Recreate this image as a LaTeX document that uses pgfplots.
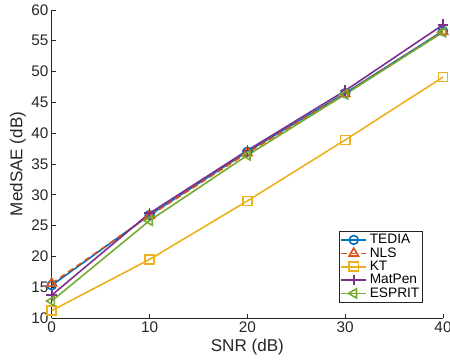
\documentclass[border=0pt]{standalone}
\usepackage{fontspec}
\setmainfont{Liberation Sans}
\usepackage{pgfplots}
\pgfplotsset{compat=1.18}
\definecolor{mblue}{rgb}{0,0.447,0.741}
\definecolor{morange}{rgb}{0.85,0.325,0.098}
\definecolor{myellow}{rgb}{0.929,0.694,0.125}
\definecolor{mpurple}{rgb}{0.494,0.184,0.556}
\definecolor{mgreen}{rgb}{0.466,0.674,0.188}
\definecolor{axgray}{rgb}{0.15,0.15,0.15}
\begin{document}
\begin{tikzpicture}
\begin{axis}[
  name=ax,
  scale only axis,
  width=293.5pt, height=231pt,
  xmin=0, xmax=40, ymin=10, ymax=60,
  xtick={0,10,20,30,40},
  ytick={10,15,20,25,30,35,40,45,50,55,60},
  axis lines=left,
  axis line style={-, axgray, line width=0.5pt},
  tick align=inside,
  major tick length=3pt,
  tick style={axgray, line width=0.5pt},
  /pgf/number format/assume math mode=true,
  ticklabel style={font=\fontsize{11.5}{13}\selectfont, text=axgray},
  yticklabel style={xshift=1pt},
  xticklabel style={yshift=1pt},
  xlabel={SNR (dB)},
  ylabel={MedSAE (dB)},
  label style={font=\fontsize{12.8}{14}\selectfont, text=axgray},
  xlabel style={at={([yshift=-22pt]axis description cs:0.5,0)}, anchor=center},
  ylabel style={at={([xshift=-25.3pt]axis description cs:0,0.5)}, anchor=center},
  legend cell align=left,
  legend style={at={(0.949,0.049)}, anchor=south east,
    font=\fontsize{10.3}{11}\selectfont, draw=axgray, line width=0.5pt,
    inner sep=0.5pt, row sep=-2.6pt},
  legend image code/.code={
    \draw[mark repeat=2,mark phase=2] plot coordinates {(0cm,0cm) (0.33cm,0cm) (0.66cm,0cm)};
  },
  every axis plot/.append style={line width=1.2pt, mark size=3.3pt, mark options={solid, fill=none}},
]
\addplot[color=mblue, mark=o] coordinates {(0,15.3) (10,26.7) (20,37.0) (30,46.5) (40,56.6)};
\addlegendentry{TEDIA}
\addplot[color=morange, dash pattern=on 4.5pt off 3pt, mark=triangle, mark size=4pt] coordinates {(0,15.6) (10,26.6) (20,36.8) (30,46.4) (40,56.5)};
\addlegendentry{NLS}
\addplot[color=myellow, mark=square, mark size=3.4pt] coordinates {(0,11.2) (10,19.5) (20,29.0) (30,38.9) (40,49.1)};
\addlegendentry{KT}
\addplot[color=mpurple, mark=+, mark size=4pt] coordinates {(0,13.7) (10,27.0) (20,37.2) (30,46.9) (40,57.6)};
\addlegendentry{MatPen}
\addplot[color=mgreen, mark=triangle, mark size=4pt, mark options={rotate=90}] coordinates {(0,12.75) (10,25.8) (20,36.4) (30,46.3) (40,56.4)};
\addlegendentry{ESPRIT}
\end{axis}
\pgfresetboundingbox
\path ([shift={(-38.8pt,-31.5pt)}]ax.south west) rectangle ([shift={(5.25pt,7.5pt)}]ax.north east);
\end{tikzpicture}
\end{document}
